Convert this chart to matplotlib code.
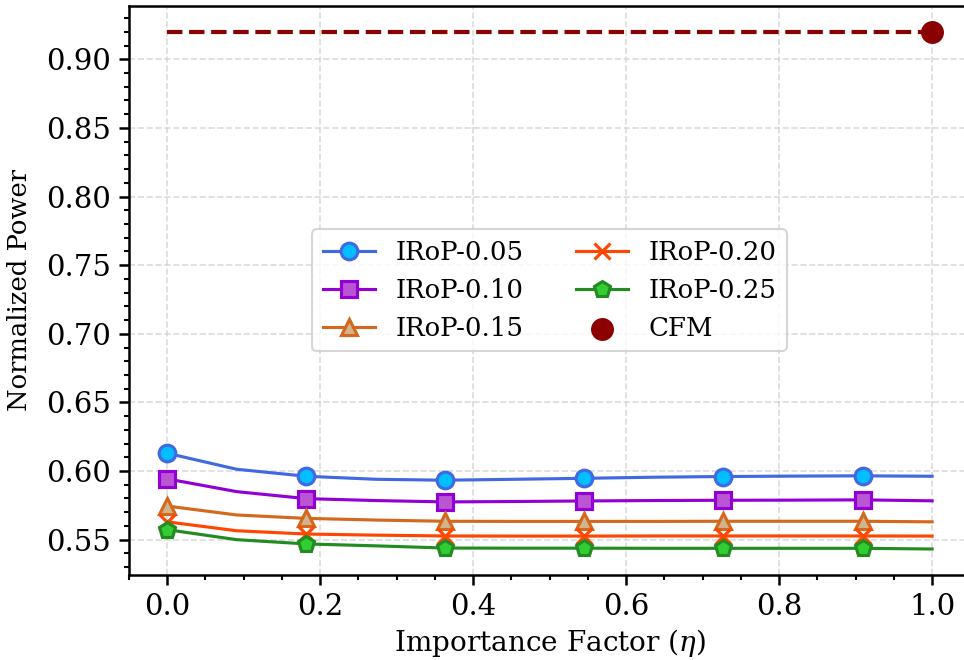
import numpy as np
import matplotlib
matplotlib.use("Agg")
import matplotlib.pyplot as plt
from matplotlib.ticker import AutoMinorLocator, MultipleLocator

plt.rcParams['font.family'] = ['DejaVu Serif']
plt.rcParams['mathtext.fontset'] = 'dejavuserif'

eta = [0.0, 1/11, 2/11, 3/11, 4/11, 5/11, 6/11, 7/11, 8/11, 9/11, 10/11, 1.0]

irop_005 = [0.6130, 0.6013, 0.5962, 0.5940, 0.5933, 0.5940, 0.5947, 0.5955, 0.5960, 0.5963, 0.5965, 0.5962]
irop_010 = [0.5943, 0.5850, 0.5799, 0.5785, 0.5775, 0.5778, 0.5782, 0.5785, 0.5787, 0.5788, 0.5790, 0.5783]
irop_015 = [0.5745, 0.5680, 0.5655, 0.5643, 0.5634, 0.5633, 0.5633, 0.5633, 0.5634, 0.5634, 0.5634, 0.5630]
irop_020 = [0.5630, 0.5565, 0.5541, 0.5533, 0.5527, 0.5526, 0.5526, 0.5527, 0.5527, 0.5527, 0.5527, 0.5526]
irop_025 = [0.5573, 0.5500, 0.5469, 0.5455, 0.5439, 0.5438, 0.5438, 0.5437, 0.5437, 0.5437, 0.5437, 0.5432]
cfm_value = 0.92
cfm_eta = 1.0

labels = ['IRoP-0.05', 'IRoP-0.10', 'IRoP-0.15', 'IRoP-0.20', 'IRoP-0.25']
series = [irop_005, irop_010, irop_015, irop_020, irop_025]
line_colors = ['#4169E1', '#9400D3', '#D2691E', '#FF4500', '#228B22']
face_colors = ['#00BFFF', '#BA55D3', '#D2B48C', '#FF4500', '#32CD32']
markers = ['o', 's', '^', 'x', 'p']

fig = plt.figure(figsize=(6.4267, 4.4), dpi=150)
ax = fig.add_axes([0.1336, 0.129, 0.873, 0.862])

for y, lab, lc, fc, mk in zip(series, labels, line_colors, face_colors, markers):
    ax.plot(eta, y, color=lc, marker=mk, markerfacecolor=fc, markeredgecolor=lc,
            markersize=8, markeredgewidth=1.5, linewidth=1.5, markevery=2, label=lab)

ax.plot([0.0, cfm_eta], [cfm_value, cfm_value], color='#8B0000', linestyle='--', linewidth=2)
ax.scatter([cfm_eta], [cfm_value], color='#8B0000', s=100, zorder=5, label='CFM')

ax.set_xlabel(r'Importance Factor ($\eta$)', fontsize=13.4, labelpad=3)
ax.set_ylabel('Normalized Power', fontsize=12.4, labelpad=7)
ax.xaxis.set_major_locator(MultipleLocator(0.2))
ax.yaxis.set_major_locator(MultipleLocator(0.05))
ax.xaxis.set_minor_locator(AutoMinorLocator(4))
ax.yaxis.set_minor_locator(AutoMinorLocator(5))
ax.tick_params(axis='both', which='major', labelsize=14, length=5, width=1.2)
ax.tick_params(axis='both', which='minor', length=2.5, width=1.0)
ax.set_xlim(-0.05, 1.05)
ax.grid(True, linestyle='--', color='#cccccc', alpha=0.7, linewidth=0.8)
for sp in ax.spines.values():
    sp.set_linewidth(1.2)

ax.legend(loc='center', ncol=2, fontsize=12.5, frameon=True, framealpha=0.8,
          edgecolor='#cccccc', columnspacing=2.0)

fig.savefig('out.png', dpi=150)
